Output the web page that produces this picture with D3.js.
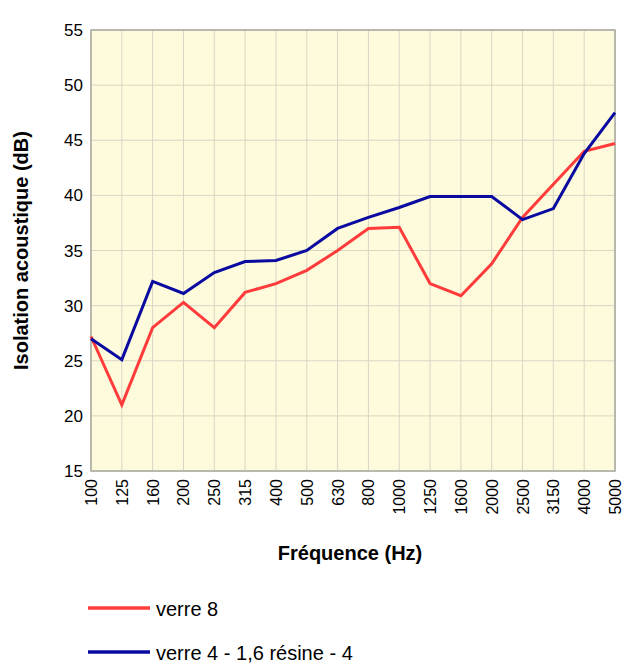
<!DOCTYPE html>
<html><head><meta charset="utf-8">
<script src="https://cdn.jsdelivr.net/npm/d3@7"></script>
<style>body{margin:0;background:#fff}svg{font-family:"Liberation Sans",Arial,sans-serif}</style>
</head><body><svg id="c" width="638" height="668"></svg>
<script>
'use strict'

var freqs = ['100','125','160','200','250','315','400','500','630','800','1000','1250','1600','2000','2500','3150','4000','5000'];
var verre8 = [27.2,21,28,30.3,28,31.2,32,33.2,35,37,37.1,32,30.9,33.8,38,41,44,44.7];
var feuillete = [27,25.1,32.2,31.1,33,34,34.1,35,37,38,38.9,39.9,39.9,39.9,37.8,38.8,43.8,47.5];
var yTicks = [15,20,25,30,35,40,45,50,55];

var svg = d3.select('svg#c');
var plotL = 91, plotR = 615, plotT = 30, plotB = 471;

var x = d3.scalePoint().domain(freqs).range([plotL, plotR]);
var y = d3.scaleLinear().domain([15, 55]).range([plotB, plotT]);

svg.append('rect').attr('x', plotL).attr('y', plotT).attr('width', plotR-plotL).attr('height', plotB-plotT)
	.attr('fill', '#fdfbdc');

// grid
svg.append('g').selectAll('line').data(freqs).join('line')
	.attr('x1', d => x(d)).attr('x2', d => x(d)).attr('y1', plotT).attr('y2', plotB)
	.attr('stroke', '#d8d6c4');
svg.append('g').selectAll('line').data(yTicks).join('line')
	.attr('x1', plotL).attr('x2', plotR).attr('y1', d => y(d)).attr('y2', d => y(d))
	.attr('stroke', '#d8d6c4');
svg.append('rect').attr('x', plotL).attr('y', plotT).attr('width', plotR-plotL).attr('height', plotB-plotT)
	.attr('fill', 'none').attr('stroke', '#a8a8a0').attr('stroke-width', 1.5);

// tick labels
svg.append('g').selectAll('text').data(yTicks).join('text')
	.attr('x', plotL - 8).attr('y', d => y(d) + 6).attr('text-anchor', 'end')
	.attr('font-size', 17).text(d => d);
svg.append('g').selectAll('text').data(freqs).join('text')
	.attr('transform', d => 'translate(' + (x(d) + 6) + ',' + (plotB + 8) + ') rotate(-90)')
	.attr('text-anchor', 'end').attr('font-size', 16).text(d => d);

svg.append('text').attr('x', (plotL+plotR)/2 - 3).attr('y', 560).attr('text-anchor', 'middle')
	.attr('font-size', 20).attr('font-weight', 'bold').text('Fréquence (Hz)');
svg.append('text').attr('transform', 'translate(28,' + ((plotT+plotB)/2) + ') rotate(-90)')
	.attr('text-anchor', 'middle').attr('font-size', 20).attr('font-weight', 'bold')
	.text('Isolation acoustique (dB)');

var line = d3.line().x((d, i) => x(freqs[i])).y(d => y(d));
var series = [
	{name: 'verre 8', values: verre8, color: '#ff3b3b'},
	{name: 'verre 4 - 1,6 résine - 4', values: feuillete, color: '#0a0aa0'}
];
series.forEach(function(s){
	svg.append('path').datum(s.values).attr('d', line).attr('fill', 'none')
		.attr('stroke', s.color).attr('stroke-width', 3);
});

// legend
series.forEach(function(s, i){
	var ly = 608 + i * 44;
	svg.append('line').attr('x1', 88).attr('x2', 150).attr('y1', ly).attr('y2', ly)
		.attr('stroke', s.color).attr('stroke-width', 3.5);
	svg.append('text').attr('x', 156).attr('y', ly + 8).attr('font-size', 20).text(s.name);
});
</script></body></html>
